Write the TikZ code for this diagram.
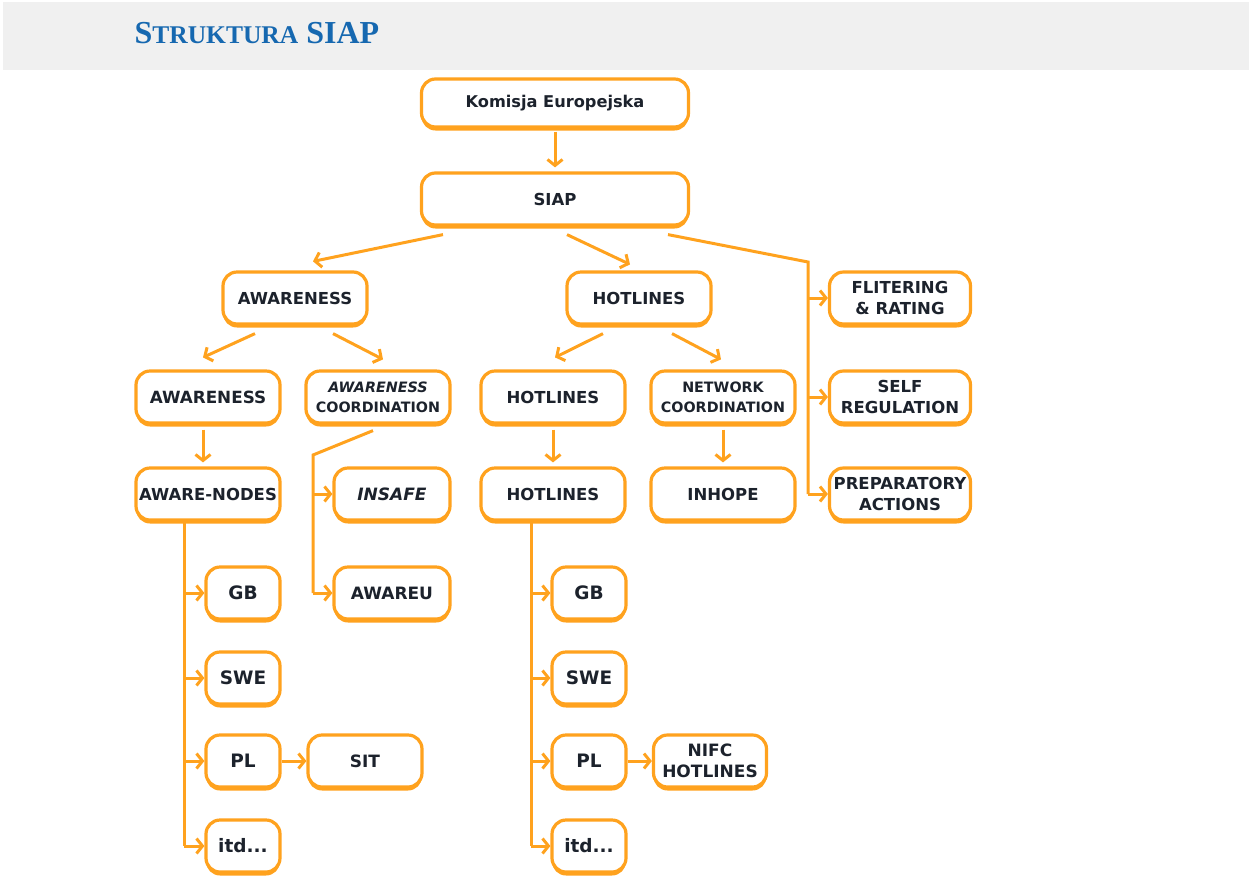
\documentclass[tikz,border=0pt]{standalone}
\usepackage{fontspec}
\setmainfont{Liberation Serif}
\setsansfont{DejaVu Sans}
\usetikzlibrary{arrows.meta,shadows}
\definecolor{orng}{RGB}{255,162,30}
\definecolor{ttlblue}{RGB}{22,104,176}
\definecolor{ink}{RGB}{28,34,44}
\begin{document}
\begin{tikzpicture}[x=1pt,y=1pt,
    box/.style={draw=orng, line width=3.2pt, fill=white, rounded corners=14pt,
        minimum height=52pt, inner sep=1pt, align=center, text=ink,
        font=\sffamily\bfseries\fontsize{16.5}{21}\selectfont,
        drop shadow={shadow xshift=0pt, shadow yshift=-3.5pt, fill=orng, opacity=1}},
    wide/.style={box, minimum width=144pt},
    small/.style={box, minimum width=74pt, minimum height=52pt,
        font=\sffamily\bfseries\fontsize{18.5}{21}\selectfont},
    mid/.style={box, minimum width=116pt,
        font=\sffamily\bfseries\fontsize{17}{21}\selectfont},
    link/.style={draw=orng, line width=3pt, -{Straight Barb[length=6pt,width=15pt]}},
    rail/.style={draw=orng, line width=3pt}]
  \useasboundingbox (0,0) rectangle (1249,-876);
  \fill[black!6] (3,-2) rectangle (1249,-70);
  \node[anchor=base west, text=ttlblue, font=\bfseries\fontsize{32}{36}\selectfont] (title) at (131,-43)
      {S{\fontsize{25.5}{30}\selectfont TRUKTURA} SIAP};
  % top
  \node[box, minimum width=267pt, minimum height=48pt, font=\sffamily\bfseries\fontsize{16.2}{20}\selectfont] (kom) at (555,-103) {Komisja Europejska};
  \node[box, minimum width=267pt] (siap) at (555,-199) {SIAP};
  % first level
  \node[wide] (aw) at (295,-298) {AWARENESS};
  \node[wide] (hot) at (639,-298) {HOTLINES};
  \node[wide, minimum width=141pt] (filt) at (900,-298) {FLITERING\\\&~RATING};
  % second level
  \node[wide, font=\sffamily\bfseries\fontsize{16.8}{21}\selectfont] (aw2) at (208,-397) {AWARENESS};
  \node[wide, font=\sffamily\bfseries\fontsize{14.3}{20}\selectfont] (awc) at (378,-397) {\textit{AWARENESS}\\COORDINATION};
  \node[wide] (hot2) at (553,-397) {HOTLINES};
  \node[wide, font=\sffamily\bfseries\fontsize{14.3}{20}\selectfont] (net) at (723,-397) {NETWORK\\COORDINATION};
  \node[wide, minimum width=141pt] (self) at (900,-397) {SELF\\REGULATION};
  % third level
  \node[wide] (nodes) at (208,-494) {AWARE-NODES};
  \node[mid] (insafe) at (392,-494) {\textit{INSAFE}};
  \node[wide] (hot3) at (553,-494) {HOTLINES};
  \node[wide] (inhope) at (723,-494) {INHOPE};
  \node[wide, minimum width=141pt] (prep) at (900,-494) {PREPARATORY\\ACTIONS};
  % countries
  \node[small] (gbA) at (243,-593) {GB};
  \node[mid] (awareu) at (392,-593) {AWAREU};
  \node[small] (sweA) at (243,-678) {SWE};
  \node[small] (plA) at (243,-761) {PL};
  \node[mid, minimum width=114pt] (sit) at (365,-761) {SIT};
  \node[small] (itdA) at (243,-846) {itd...};
  \node[small] (gbB) at (589,-593) {GB};
  \node[small] (sweB) at (589,-678) {SWE};
  \node[small] (plB) at (589,-761) {PL};
  \node[small] (itdB) at (589,-846) {itd...};
  \node[mid, minimum width=113pt, font=\sffamily\bfseries\fontsize{17}{21}\selectfont] (nifc) at (710,-761) {NIFC\\HOTLINES};
  % connectors
  \draw[link] ([yshift=-3pt]kom.south) -- ([yshift=4pt]siap.north);
  \draw[link] ([xshift=-112pt,yshift=-8pt]siap.south) -- ([xshift=18pt,yshift=9pt]aw.north);
  \draw[link] ([xshift=12pt,yshift=-8pt]siap.south) -- ([xshift=-9pt,yshift=6pt]hot.north);
  \coordinate (railR) at (808,-262);
  \draw[rail] ([xshift=113pt,yshift=-8pt]siap.south) -- (railR) -- (railR |- prep.west);
  \foreach \n in {filt,self,prep}
    \draw[link] (railR |- \n.west) -- (\n.west);
  \draw[link] ([xshift=-40pt,yshift=-8pt]aw.south) -- ([xshift=-5pt,yshift=12pt]aw2.north);
  \draw[link] ([xshift=38pt,yshift=-8pt]aw.south) -- ([xshift=5pt,yshift=10pt]awc.north);
  \draw[link] ([xshift=-36pt,yshift=-8pt]hot.south) -- ([xshift=2pt,yshift=12pt]hot2.north);
  \draw[link] ([xshift=33pt,yshift=-8pt]hot.south) -- ([xshift=-2pt,yshift=10pt]net.north);
  \draw[link] ([xshift=-5pt,yshift=-5pt]aw2.south) -- ([xshift=-5pt,yshift=4pt]nodes.north);
  \draw[link] ([yshift=-5pt]hot2.south) -- ([yshift=4pt]hot3.north);
  \draw[link] ([yshift=-5pt]net.south) -- ([yshift=4pt]inhope.north);
  \coordinate (railC) at (313,-455);
  \draw[rail] ([xshift=-5pt,yshift=-6pt]awc.south) -- (railC) -- (railC |- awareu.west);
  \foreach \n in {insafe,awareu}
    \draw[link] (railC |- \n.west) -- (\n.west);
  \coordinate (railA) at (184,-522);
  \draw[rail] (railA) -- (railA |- itdA.west);
  \coordinate (railB) at (531,-522);
  \draw[rail] (railB) -- (railB |- itdB.west);
  \foreach \n in {gb,swe,pl,itd} {
    \draw[link] (railA |- \n A.west) -- (\n A.west);
    \draw[link] (railB |- \n B.west) -- (\n B.west);
  }
  \draw[link] (plA) -- (sit);
  \draw[link] (plB) -- (nifc);
\end{tikzpicture}
\end{document}
